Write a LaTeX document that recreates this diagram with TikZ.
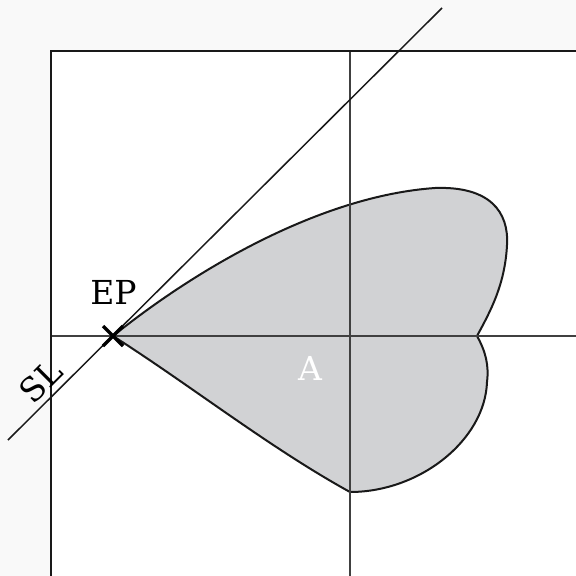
\documentclass[tikz,border=0pt]{standalone}
\usepackage{fontspec}
\setmainfont{DejaVu Serif}
\usetikzlibrary{calc}
\begin{document}
\begin{tikzpicture}[x=1pt,y=-1pt,
  gridline/.style={draw=black!75,line width=1.1pt},
  outline/.style={draw=black!90,line width=2pt,fill=shapegray,line join=round},
  lbl/.style={font=\fontsize{33}{38}\selectfont,inner sep=0pt}]
\definecolor{shapegray}{HTML}{D1D2D4}
\definecolor{bggray}{HTML}{F9F9F9}
\fill[bggray] (0,0) rectangle (576,576);
\useasboundingbox (0,0) rectangle (576,576);
\fill[white] (51,51) rectangle (576,576);
\coordinate (EP) at (113,336);
\coordinate (T) at (435,188);
\coordinate (R) at (507,245);
\coordinate (C) at (477,336);
\coordinate (R2) at (487,382);
\coordinate (B) at (350,492);
\path[outline] (EP) .. controls (195,270) and (320,196) .. (T)
  .. controls (490,186) and (509,212) .. (R)
  .. controls (505,285) and (490,312) .. (C)
  .. controls (486,352) and (489,366) .. (R2)
  .. controls (485,440) and (420,492) .. (B)
  .. controls (270,448) and (190,385) .. (EP) -- cycle;
\draw[gridline] (350,51) -- (350,576);
\draw[gridline] (51,336) -- (576,336);
\draw[black!90,line width=2pt] (51,576) -- (51,51) -- (576,51);
\coordinate (SLa) at (8,440);
\coordinate (SLb) at (442,8);
\draw[black!90,line width=1.5pt] (SLa) -- (SLb);
\draw[black,line width=3.5pt] ($(EP)+(-10,-10)$) -- ($(EP)+(10,10)$)
  ($(EP)+(-10,10)$) -- ($(EP)+(10,-10)$);
\node[lbl] (ep) at (113.5,292.5) {EP};
\node[lbl,rotate=45] (sl) at (41,381) {SL};
\node[lbl,text=white] (a) at (310,368.5) {A};
\end{tikzpicture}
\end{document}
